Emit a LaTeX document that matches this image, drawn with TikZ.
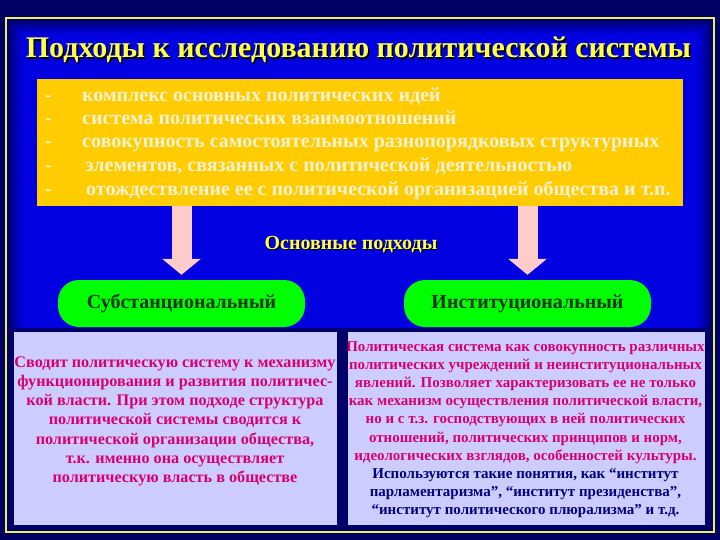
\documentclass[tikz,border=0pt]{standalone}
\usepackage{fontspec}
\setmainfont{Liberation Serif}
\usetikzlibrary{arrows.meta}
\definecolor{navybg}{RGB}{0,0,100}
\definecolor{frameyellow}{RGB}{240,240,90}
\definecolor{titleyellow}{RGB}{255,255,70}
\definecolor{gold}{RGB}{255,204,0}
\definecolor{cream}{RGB}{255,242,210}
\definecolor{pinkarrow}{RGB}{255,204,204}
\definecolor{brightgreen}{RGB}{0,255,0}
\definecolor{darkgreen}{RGB}{0,55,0}
\definecolor{lavender}{RGB}{204,204,255}
\definecolor{pinktext}{RGB}{215,0,110}
\definecolor{bluetext}{RGB}{0,0,128}
\definecolor{panelnavy}{RGB}{0,0,105}
\tikzset{
  titletext/.style={font=\fontsize{30}{30}\selectfont\bfseries, text=titleyellow, anchor=base, inner sep=0},
  shadowtext/.style={font=\fontsize{30}{30}\selectfont\bfseries, text=black, anchor=base, inner sep=0},
  bullettext/.style={font=\fontsize{20}{20}\selectfont\bfseries, text=cream, anchor=base west, inner sep=0},
  subtitle/.style={font=\fontsize{20}{20}\selectfont\bfseries, text=titleyellow, anchor=base, inner sep=0},
  subshadow/.style={font=\fontsize{20}{20}\selectfont\bfseries, text=black, anchor=base, inner sep=0},
  greenbox/.style={fill=brightgreen, rounded corners=21pt, minimum width=247pt, minimum height=47pt, inner sep=0,
     font=\fontsize{20}{20}\selectfont\bfseries, text=darkgreen},
  lavbox/.style={fill=lavender, inner sep=0},
  lefttext/.style={font=\fontsize{16.2}{16.2}\selectfont\bfseries, text=pinktext, anchor=base, inner sep=0},
  righttext/.style={font=\fontsize{15}{15}\selectfont\bfseries, text=pinktext, anchor=base, inner sep=0},
  rightblue/.style={font=\fontsize{15}{15}\selectfont\bfseries, text=bluetext, anchor=base, inner sep=0},
  bigarrow/.style={draw=pinkarrow, line width=20pt, -{Triangle[width=38pt,length=16pt]}},
}
\begin{document}
\begin{tikzpicture}[x=1pt,y=-1pt]
\useasboundingbox (0,0) rectangle (720,540);
\fill[navybg] (0,0) rectangle (720,540);
\foreach \i in {0,...,15} {
  \pgfmathtruncatemacro\b{105+\i*8}
  \definecolor{gradblue}{RGB}{0,0,\b}
  \fill[gradblue] ({7+\i},{19+\i}) rectangle ({713-\i},{531-\i});
}
\draw[frameyellow, line width=2pt] (6,18) rectangle (714,532);
% title
\node[shadowtext] (titleshadow) at (360,59.5) {Подходы к исследованию политической системы};
\node[titletext] (title) at (358.5,58) {Подходы к исследованию политической системы};
% gold box
\node[fill=gold, minimum width=646pt, minimum height=127pt, inner sep=0] (goldbox) at (360,142.5) {};
\foreach \y/\n in {102/d1,125/d2,148/d3,172/d4,196/d5}
  \node[bullettext] (\n) at (45,\y) {-};
\node[bullettext] (b1) at (82,102) {комплекс основных политических идей};
\node[bullettext] (b2) at (82,125) {система политических взаимоотношений};
\node[bullettext] (b3) at (82,148) {совокупность самостоятельных разнопорядковых структурных};
\node[bullettext] (b4) at (85,172) {элементов, связанных с политической деятельностью};
\node[bullettext] (b5) at (86,196) {отождествление ее с политической организацией общества и т.п.};
% subtitle
\node[subshadow] (subshadow) at (352,250) {Основные подходы};
\node[subtitle] (sub) at (351,249) {Основные подходы};
% green boxes
\node[greenbox] (subst) at (181.5,303.5) {Субстанциональный};
\node[greenbox] (inst) at (527.5,303.5) {Институциональный};
% arrows
\draw[bigarrow] (goldbox.south -| subst.north) -- ([yshift=5pt]subst.north);
\draw[bigarrow] (goldbox.south -| inst.north) -- ([yshift=5pt]inst.north);
% bottom panel
\fill[panelnavy] (8,328) rectangle (712,530);
\node[lavbox, minimum width=323pt, minimum height=193pt] (leftbox) at (175.5,428.5) {};
\node[lavbox, minimum width=357pt, minimum height=193pt] (rightbox) at (526.5,428.5) {};
\foreach \t [count=\i] in {{Сводит политическую систему к механизму},{функционирования и развития политичес-},{кой власти. При этом подходе структура},{политической системы сводится к},{политической организации общества,},{т.к. именно она осуществляет},{политическую власть в обществе}}
  \node[lefttext] (L\i) at (175,{367+(\i-1)*19.3}) {\t};
\foreach \t [count=\i] in {{Политическая система как совокупность различных},{политических учреждений и неинституциональных},{явлений. Позволяет характеризовать ее не только},{как механизм осуществления политической власти,},{но и с т.з. господствующих в ней политических},{отношений, политических принципов и норм,},{идеологических взглядов, особенностей культуры.}}
  \node[righttext] (R\i) at (525.5,{351+(\i-1)*18.2}) {\t};
\foreach \t [count=\i from 8] in {{Используются такие понятия, как “институт},{парламентаризма”, “институт президенства”,},{“институт политического плюрализма” и т.д.}}
  \node[rightblue] (R\i) at (525.5,{351+(\i-1)*18.2}) {\t};
\end{tikzpicture}
\end{document}
